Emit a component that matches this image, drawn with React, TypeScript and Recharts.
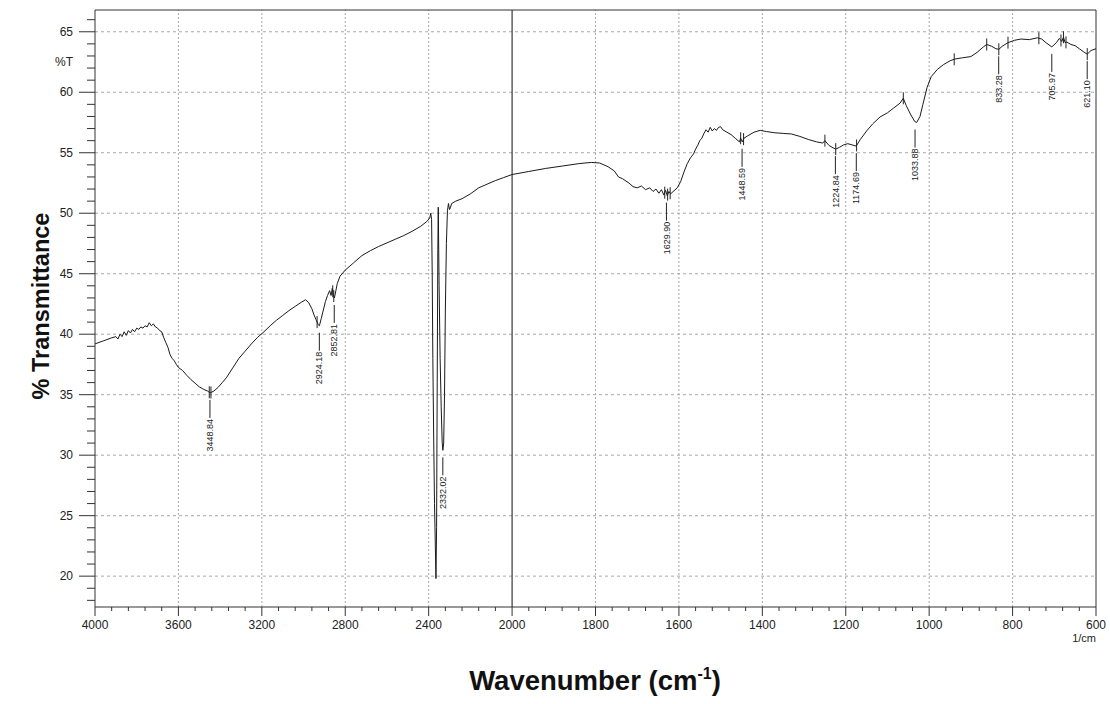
import React from 'react';
import { LineChart, Line, XAxis, YAxis, ReferenceLine, ReferenceDot } from 'recharts';

// FTIR spectrum (wavenumber in 1/cm, %T)
const wavenumbers = [
  4000, 3960, 3920, 3900, 3890, 3880, 3870, 3860, 3850, 3840, 3830, 3820, 3810, 3800, 3790, 3780, 3770,
  3760, 3750, 3740, 3730, 3720, 3710, 3700, 3690, 3680, 3670, 3660, 3650, 3640, 3630, 3620, 3610, 3600,
  3580, 3560, 3540, 3520, 3500, 3480, 3460, 3448, 3430, 3410, 3390, 3370, 3340, 3310, 3280, 3250, 3220,
  3190, 3160, 3130, 3100, 3070, 3040, 3010, 2990, 2975, 2960, 2950, 2940, 2930, 2924, 2915, 2905, 2895,
  2885, 2875, 2868, 2862, 2858, 2852, 2845, 2838, 2825, 2800, 2760, 2720, 2680, 2640, 2600, 2560, 2520,
  2480, 2440, 2410, 2395, 2390, 2386, 2383, 2380, 2376, 2372, 2368, 2365, 2362, 2359, 2356, 2354, 2350,
  2345, 2340, 2335, 2332, 2328, 2324, 2320, 2315, 2310, 2305, 2300, 2295, 2290, 2270, 2240, 2200, 2160,
  2120, 2080, 2040, 2000, 1960, 1920, 1880, 1840, 1810, 1790, 1770, 1755, 1745, 1735, 1720, 1710, 1700,
  1690, 1680, 1670, 1662, 1655, 1648, 1642, 1636, 1632, 1628, 1624, 1620, 1612, 1604, 1596, 1588, 1580,
  1572, 1565, 1560, 1555, 1550, 1545, 1540, 1535, 1530, 1525, 1520, 1515, 1510, 1505, 1500, 1495, 1485,
  1475, 1465, 1455, 1452, 1448, 1444, 1435, 1420, 1405, 1390, 1370, 1350, 1330, 1310, 1290, 1270, 1255,
  1250, 1240, 1230, 1224, 1215, 1205, 1195, 1185, 1175, 1165, 1150, 1135, 1118, 1100, 1085, 1070, 1062,
  1055, 1045, 1035, 1030, 1022, 1015, 1005, 995, 980, 965, 950, 938, 920, 900, 885, 870, 862, 850, 840,
  833, 825, 811, 795, 780, 760, 741, 730, 720, 706, 695, 688, 682, 678, 674, 670, 660, 650, 640, 630,
  621, 612, 600,
];

const transmittance = [
  39.2, 39.45, 39.7, 39.8, 39.6, 40.0, 39.8, 40.2, 39.9, 40.3, 40.1, 40.4, 40.2, 40.5, 40.4, 40.6, 40.5,
  40.7, 40.6, 40.95, 40.7, 40.85, 40.6, 40.5, 40.3, 40.2, 39.7, 39.3, 38.9, 38.3, 38.0, 37.8, 37.5, 37.25,
  37.0, 36.6, 36.25, 35.95, 35.65, 35.45, 35.3, 35.15, 35.3, 35.6, 36.0, 36.4, 37.2, 38.0, 38.6, 39.2, 39.75,
  40.2, 40.7, 41.15, 41.55, 41.95, 42.3, 42.65, 42.85, 42.6, 42.1, 41.6, 41.2, 40.8, 40.7, 41.3, 42.0, 42.7,
  43.2, 43.6, 43.2, 43.8, 43.3, 43.0, 43.6, 44.2, 44.8, 45.3, 45.9, 46.5, 46.9, 47.25, 47.55, 47.85, 48.15,
  48.5, 48.9, 49.3, 49.6, 50.0, 49.5, 45.0, 38.0, 31.5, 26.0, 22.5, 19.8, 24.0, 36.0, 47.0, 50.5, 44.0,
  38.0, 34.0, 31.0, 30.4, 31.0, 35.0, 42.0, 47.5, 50.2, 50.8, 50.3, 50.5, 50.8, 51.0, 51.2, 51.6, 52.1,
  52.4, 52.7, 52.95, 53.2, 53.45, 53.7, 53.9, 54.1, 54.2, 54.15, 53.85, 53.5, 53.0, 52.85, 52.5, 52.2, 52.1,
  52.25, 51.95, 52.1, 51.8, 52.0, 51.65, 51.95, 51.5, 51.9, 51.45, 51.8, 51.6, 51.85, 52.1, 52.6, 53.4, 54.1,
  54.6, 54.9, 55.3, 55.6, 56.0, 56.2, 56.6, 56.9, 56.7, 57.1, 56.8, 57.0, 56.85, 57.1, 57.15, 56.9, 56.7,
  56.5, 56.2, 55.9, 56.2, 55.9, 56.2, 56.4, 56.7, 56.85, 56.75, 56.65, 56.6, 56.55, 56.35, 56.1, 55.9, 55.8,
  56.0, 55.6, 55.4, 55.3, 55.45, 55.65, 55.75, 55.65, 55.55, 56.1, 56.8, 57.4, 57.95, 58.3, 58.7, 59.1, 59.5,
  58.9, 58.2, 57.6, 57.5, 58.0, 59.0, 60.4, 61.3, 61.9, 62.3, 62.6, 62.75, 62.85, 62.95, 63.3, 63.75, 63.95, 63.8, 63.6,
  63.55, 63.8, 64.1, 64.3, 64.4, 64.35, 64.5, 64.4, 64.1, 63.75, 64.1, 64.45, 64.2, 64.55, 64.1, 64.15, 63.95, 63.85, 63.6, 63.35,
  63.15, 63.45, 63.6,
];

// labelled peaks
const peakWavenumbers = [3448.84, 2924.18, 2852.81, 2332.02, 1629.9, 1448.59, 1224.84, 1174.69, 1033.88, 833.28, 705.97, 621.1];
const peakValues = [35.15, 40.7, 43.0, 30.4, 51.45, 55.9, 55.3, 55.55, 57.5, 63.55, 63.75, 63.15];

// small peak-pick marks crossing the trace
const markWavenumbers = [3452, 3444, 2935, 2860, 2855, 1634, 1627, 1621, 1452, 1445, 1250, 1224, 1174, 1062, 940, 862, 833, 811, 737, 684, 678, 672, 621];

const xTickLabels = [4000, 3600, 3200, 2800, 2400, 2000, 1800, 1600, 1400, 1200, 1000, 800, 600];
const yTickLabels = [20, 25, 30, 35, 40, 45, 50, 55, 60, 65];

// the 4000-2000 half is drawn at half the scale of 2000-600
const toU = (wn: number) => (wn >= 2000 ? (4000 - wn) / 2 : 1000 + (2000 - wn));
const fromU = (u: number) => (u <= 1000 ? 4000 - 2 * u : 2000 - (u - 1000));

const Y_MIN = 17.45;
const Y_MAX = 66.8;
const FONT = '"Liberation Sans", Arial, sans-serif';

const data = wavenumbers.map((wn, i) => ({ u: toU(wn), t: transmittance[i] }));

const tAt = (wn: number) => {
  for (let i = 0; i < wavenumbers.length - 1; i++) {
    const a = wavenumbers[i];
    const b = wavenumbers[i + 1];
    if (wn <= a && wn >= b) {
      const f = (a - wn) / (a - b);
      return transmittance[i] + f * (transmittance[i + 1] - transmittance[i]);
    }
  }
  return transmittance[transmittance.length - 1];
};

const xMajorU = xTickLabels.map(toU);
const xTicks: number[] = [];
xMajorU.forEach((u, i) => {
  xTicks.push(u);
  if (i < xMajorU.length - 1) {
    const step = (xMajorU[i + 1] - u) / 5;
    for (let k = 1; k < 5; k++) xTicks.push(u + k * step);
  }
});

const yTicks: number[] = [];
for (let v = 18; v <= 66; v++) yTicks.push(v);

const XTick = (props: any) => {
  const { x, y, payload } = props;
  const u = payload.value;
  const major = xMajorU.some((m) => Math.abs(m - u) < 0.01);
  return (
    <g>
      <line x1={x} x2={x} y1={y} y2={y + (major ? 9 : 4)} stroke="#333" />
      {major && (
        <text x={x} y={y + 18} dy="0.35em" textAnchor="middle" fontSize={12} fontFamily={FONT} fill="#222">
          {Math.round(fromU(u))}
        </text>
      )}
    </g>
  );
};

const YTick = (props: any) => {
  const { x, y, payload } = props;
  const v = payload.value;
  const major = v % 5 === 0;
  return (
    <g>
      <line x1={x - (major ? 16 : 8)} x2={x} y1={y} y2={y} stroke="#333" />
      {major && (
        <text x={x - 22} y={y} dy="0.35em" textAnchor="end" fontSize={12} fontFamily={FONT} fill="#222">
          {v}
        </text>
      )}
    </g>
  );
};

const PeakLabel = ({ cx, cy, text }: { cx: number; cy: number; text: string }) => (
  <g>
    <line x1={cx} x2={cx} y1={cy + 7} y2={cy + 25} stroke="#222" />
    <text
      x={cx}
      y={cy + 26}
      transform={`rotate(-90 ${cx} ${cy + 26})`}
      textAnchor="end"
      dy="0.35em"
      fontSize={9}
      fontFamily={FONT}
      fill="#222"
    >
      {text}
    </text>
  </g>
);

const PickMark = ({ cx, cy }: { cx: number; cy: number }) => (
  <line x1={cx} x2={cx} y1={cy - 6} y2={cy + 6} stroke="#222" />
);

export default function App() {
  return (
    <div style={{ position: 'absolute', left: 0, top: 0, width: 1110, height: 704, background: '#fff' }}>
      <LineChart width={1110} height={704} data={data} margin={{ top: 10, right: 14, left: 35, bottom: 67 }}>
        {yTickLabels.map((v) => (
          <ReferenceLine key={`gy-${v}`} y={v} stroke="#a8a8a8" strokeDasharray="3 3" />
        ))}
        {xMajorU
          .filter((u) => u > 0 && u < 2400 && u !== 1000)
          .map((u) => (
            <ReferenceLine key={`gx-${u}`} x={u} stroke="#a8a8a8" strokeDasharray="2 2" />
          ))}
        <ReferenceLine x={1000} stroke="#111" />
        <ReferenceLine y={Y_MAX} stroke="#333" />
        <ReferenceLine x={2400} stroke="#333" />
        <XAxis
          type="number"
          dataKey="u"
          domain={[0, 2400]}
          ticks={xTicks}
          interval={0}
          tickSize={0}
          tickMargin={0}
          tickLine={false}
          tick={<XTick />}
          axisLine={{ stroke: '#333' }}
          height={30}
          label={{
            content: () => (
              <g fontFamily={FONT}>
                <text x={1096} y={638} textAnchor="end" dy="0.35em" fontSize={11} fill="#222">
                  1/cm
                </text>
                <text x={595} y={690} textAnchor="middle" fontSize={27.5} fontWeight="bold" fill="#111">
                  Wavenumber (cm
                  <tspan fontSize={16} dy={-11}>-1</tspan>
                  <tspan dy={11}>)</tspan>
                </text>
              </g>
            ),
          }}
        />
        <YAxis
          type="number"
          domain={[Y_MIN, Y_MAX]}
          allowDataOverflow
          ticks={yTicks}
          interval={0}
          tickSize={0}
          tickMargin={0}
          tickLine={false}
          tick={<YTick />}
          axisLine={{ stroke: '#333' }}
          width={60}
          label={{
            content: () => (
              <g fontFamily={FONT}>
                <text x={64} y={62} textAnchor="middle" dy="0.35em" fontSize={12} fill="#222">
                  %T
                </text>
                <text
                  x={41}
                  y={306}
                  transform="rotate(-90 41 306)"
                  textAnchor="middle"
                  dy="0.35em"
                  fontSize={23.5}
                  fontWeight="bold"
                  fill="#111"
                >
                  % Transmittance
                </text>
              </g>
            ),
          }}
        />
        <Line
          type="linear"
          dataKey="t"
          stroke="#1a1a1a"
          strokeWidth={1}
          dot={false}
          activeDot={false}
          isAnimationActive={false}
        />
        {markWavenumbers.map((wn) => (
          <ReferenceDot
            key={`m-${wn}`}
            x={toU(wn)}
            y={tAt(wn)}
            r={0}
            shape={(p: any) => <PickMark cx={p.cx} cy={p.cy} />}
          />
        ))}
        {peakWavenumbers.map((wn, i) => (
          <ReferenceDot
            key={`p-${wn}`}
            x={toU(wn)}
            y={peakValues[i]}
            r={0}
            shape={(p: any) => <PeakLabel cx={p.cx} cy={p.cy} text={wn.toFixed(2)} />}
          />
        ))}
      </LineChart>
    </div>
  );
}
